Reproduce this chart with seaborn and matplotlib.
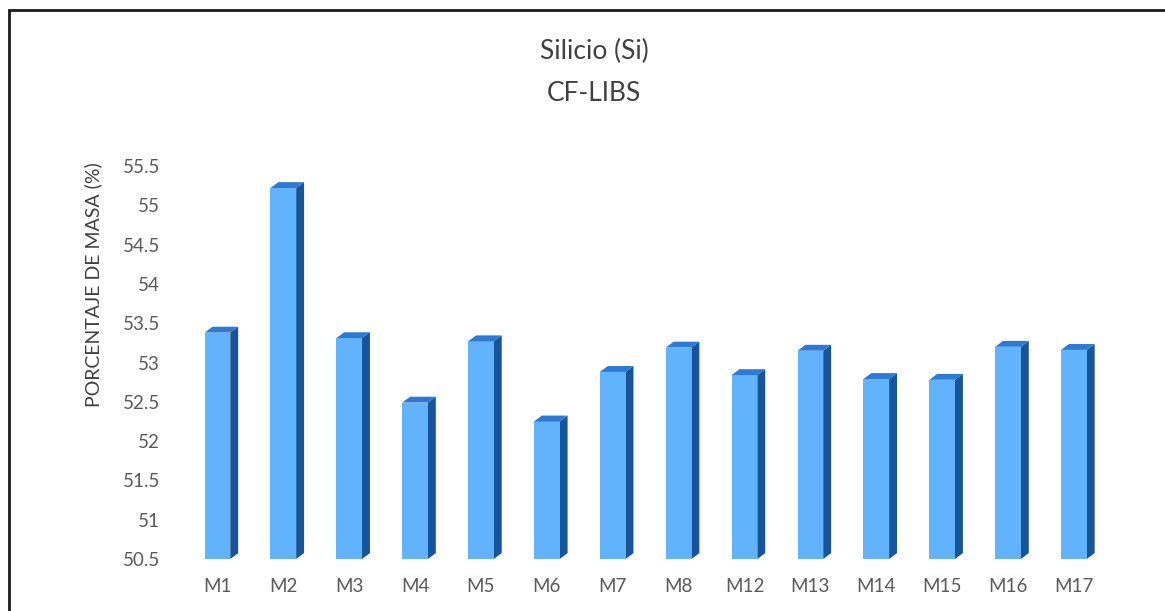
import matplotlib
matplotlib.use("Agg")
import matplotlib.pyplot as plt
from matplotlib.patches import Polygon, Rectangle
import seaborn as sns
import pandas as pd

# Silicon mass fraction per sample, CF-LIBS
samples = ["M1", "M2", "M3", "M4", "M5", "M6", "M7", "M8",
           "M12", "M13", "M14", "M15", "M16", "M17"]
silicon = [53.38, 55.22, 53.31, 52.49, 53.27, 52.25, 52.88, 53.19,
           52.84, 53.15, 52.79, 52.78, 53.20, 53.16]
y_ticks = [50.5, 51, 51.5, 52, 52.5, 53, 53.5, 54, 54.5, 55, 55.5]
y_tick_labels = ["50.5", "51", "51.5", "52", "52.5", "53", "53.5",
                 "54", "54.5", "55", "55.5"]

df = pd.DataFrame({"muestra": samples, "si": silicon})

sns.set_theme(style="white")
plt.rcParams["font.family"] = ["Lato", "DejaVu Sans"]

FRONT = "#62B3FE"
SIDE = "#17549B"
TOP = "#2E7AD2"
TEXT = "#595959"

fig = plt.figure(figsize=(11.65, 6.11), dpi=100)
ax = fig.add_axes([0.1459, 0.0851, 0.8155, 0.6432])

sns.barplot(data=df, x="muestra", y="si", color=FRONT, saturation=1,
            width=0.39, ax=ax, zorder=3)

ax.set_ylim(50.5, 55.5)
ax.set_xlim(-0.72, 13.7)
ax.set_yticks(y_ticks)
ax.set_yticklabels(y_tick_labels)

# depth of the pseudo-3D columns, expressed in data units
dx = 0.12
dy = 0.075
y_floor = ax.get_ylim()[0]
for bar in ax.patches[:len(samples)]:
    bar.set_edgecolor("none")
    x0 = bar.get_x()
    x1 = x0 + bar.get_width()
    top = bar.get_y() + bar.get_height()
    side = Polygon([(x1, y_floor), (x1, top), (x1 + dx, top + dy),
                    (x1 + dx, y_floor + dy)], closed=True,
                   facecolor=SIDE, edgecolor="none", zorder=2,
                   clip_on=False)
    cap = Polygon([(x0, top), (x1, top), (x1 + dx, top + dy),
                   (x0 + dx, top + dy)], closed=True,
                  facecolor=TOP, edgecolor="none", zorder=4,
                  clip_on=False)
    ax.add_patch(side)
    ax.add_patch(cap)

for s in ax.spines.values():
    s.set_visible(False)
ax.tick_params(axis="both", length=0, labelsize=13.5, labelcolor=TEXT)
ax.tick_params(axis="x", pad=14)
ax.tick_params(axis="y", pad=7)
ax.set_xlabel("")
ax.set_ylabel("PORCENTAJE DE MASA (%)", fontsize=14, color="#404040")
ax.yaxis.set_label_coords(-0.071, 0.697)

fig.text(0.51, 0.916, "Silicio (Si)", ha="center", va="center",
         fontsize=19, color="#404040")
fig.text(0.51, 0.847, "CF-LIBS", ha="center", va="center",
         fontsize=19, color="#404040")

# chart frame
fig.patches.append(Rectangle((9 / 1165, -0.1), 1.2, (611 - 10) / 611 + 0.1,
                             transform=fig.transFigure, fill=False,
                             edgecolor="#1a1a1a", linewidth=2))

fig.savefig("out.png", dpi=100)
